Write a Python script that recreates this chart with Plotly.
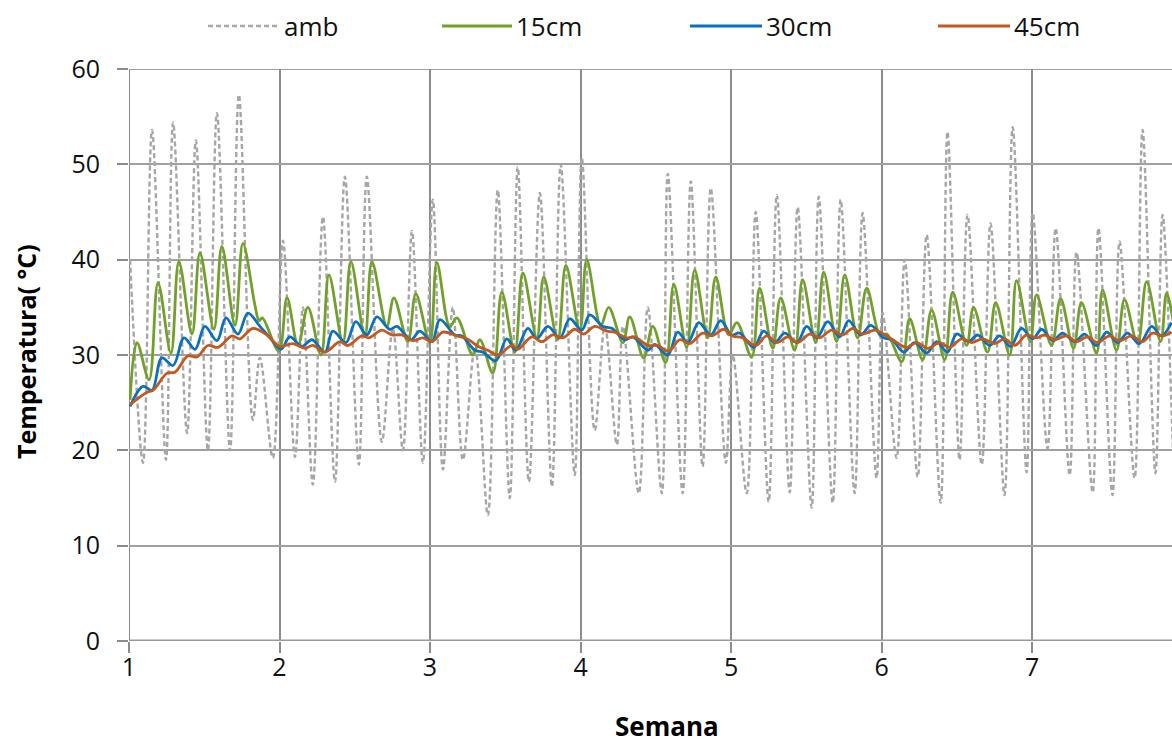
import plotly.graph_objects as go

# Daily turning points of each temperature record.
# x values are days since the start of monitoring, y values are °C.
amb_day = [0.05, 0.65, 1.07, 1.72, 2.05, 2.70, 3.11, 3.67, 4.09, 4.70, 5.11, 5.76, 6.09, 6.69,
           7.16, 7.72, 8.09, 8.55, 9.02, 9.58, 10.04, 10.69, 11.06, 11.76, 12.27, 12.74, 13.16, 13.67,
           14.13, 14.60, 15.06, 15.53, 16.09, 16.69, 17.15, 17.71, 18.08, 18.60, 19.11, 19.67, 20.08, 20.73,
           21.06, 21.66, 22.13, 22.69, 22.97, 23.71, 24.13, 24.78, 25.06, 25.75, 26.13, 26.68, 27.06, 27.76,
           28.08, 28.73, 29.15, 29.75, 30.13, 30.73, 31.10, 31.75, 32.08, 32.73, 33.10, 33.75, 34.12, 34.77,
           35.05, 35.70, 36.08, 36.68, 37.10, 37.75, 38.07, 38.63, 39.00, 39.66, 40.07, 40.72, 41.10, 41.75,
           42.03, 42.72, 43.10, 43.75, 44.07, 44.82, 45.09, 45.74, 46.07, 46.77, 47.14, 47.74, 48.07, 48.55]
amb_temp = [40.0, 18.7, 53.6, 19.0, 54.4, 21.8, 52.5, 20.0, 55.4, 20.0, 57.3, 23.2, 29.7, 19.2,
            42.0, 19.3, 35.0, 16.4, 44.5, 16.7, 48.7, 18.5, 48.7, 20.9, 32.8, 20.0, 43.0, 18.7,
            46.3, 18.0, 35.0, 19.0, 30.8, 13.2, 47.3, 15.0, 49.7, 16.7, 47.0, 16.2, 50.0, 17.4,
            50.7, 22.1, 33.0, 20.6, 33.0, 15.5, 35.0, 15.5, 49.0, 15.5, 48.2, 18.3, 47.5, 18.7,
            30.0, 15.5, 45.0, 14.6, 46.8, 15.6, 45.5, 14.0, 46.6, 14.5, 46.3, 15.5, 44.9, 17.1,
            34.4, 19.2, 40.0, 17.2, 42.6, 14.5, 53.4, 19.0, 44.7, 18.5, 43.8, 15.3, 53.9, 17.7,
            44.9, 20.2, 43.3, 17.4, 40.8, 15.6, 43.3, 15.3, 41.9, 17.1, 53.6, 17.6, 44.7, 20.0]

d15_day = [0.05, 0.37, 0.93, 1.35, 1.95, 2.32, 2.93, 3.30, 3.95, 4.32, 4.93, 5.30, 5.86, 6.05, 6.20, 6.97,
           7.35, 7.86, 8.32, 8.93, 9.30, 9.95, 10.32, 10.97, 11.30, 11.99, 12.32, 12.97, 13.34, 13.99,
           14.32, 14.92, 15.25, 15.99, 16.32, 16.92, 17.34, 17.94, 18.32, 18.97, 19.29, 19.94, 20.32, 20.97,
           21.29, 21.94, 22.31, 22.97, 23.29, 23.94, 24.36, 24.96, 25.34, 25.94, 26.31, 26.92, 27.29, 27.89,
           28.27, 28.96, 29.33, 29.94, 30.31, 30.96, 31.33, 31.94, 32.31, 32.91, 33.29, 33.89, 34.31, 34.95,
           35.25, 35.94, 36.31, 36.91, 37.33, 37.94, 38.31, 38.96, 39.28, 39.93, 40.31, 40.96, 41.28, 41.92,
           42.21, 42.91, 43.33, 43.93, 44.30, 45.00, 45.28, 45.93, 46.30, 46.91, 47.33, 47.98, 48.26, 48.70]
d15_temp = [25.3, 31.3, 27.4, 37.6, 30.2, 39.8, 32.2, 40.7, 32.7, 41.4, 33.1, 41.7, 35.2, 33.6, 33.9, 30.4,
            36.0, 31.0, 35.0, 30.0, 38.4, 31.3, 39.8, 31.9, 39.8, 33.0, 36.0, 31.4, 36.4, 31.3,
            39.7, 33.0, 33.9, 30.0, 31.6, 28.1, 36.6, 30.3, 38.6, 31.8, 38.2, 31.6, 39.4, 32.6,
            40.0, 33.1, 35.0, 31.3, 34.0, 29.7, 33.0, 29.2, 37.4, 30.8, 38.9, 31.8, 38.2, 32.1,
            33.4, 29.8, 37.0, 30.7, 36.0, 30.5, 37.9, 31.3, 38.7, 31.4, 38.4, 31.8, 37.0, 32.0,
            32.2, 29.3, 33.8, 29.5, 34.7, 29.5, 36.6, 31.0, 35.0, 30.3, 35.5, 30.0, 37.8, 31.4,
            36.3, 31.0, 35.9, 30.7, 35.5, 30.2, 36.8, 30.5, 35.8, 31.2, 37.7, 31.4, 36.5, 31.5]

d30_day = [0.05, 0.65, 1.07, 1.53, 2.05, 2.56, 3.07, 3.53, 4.09, 4.51, 5.07, 5.53, 6.09, 6.56, 7.07,
           7.48, 8.04, 8.51, 9.11, 9.48, 10.09, 10.55, 11.06, 11.53, 12.13, 12.46, 13.11, 13.53, 14.09,
           14.46, 15.16, 15.48, 16.09, 16.46, 17.06, 17.57, 17.99, 18.55, 18.97, 19.48, 20.04, 20.50, 21.06,
           21.43, 22.04, 22.45, 23.06, 23.43, 24.13, 24.45, 25.06, 25.52, 25.99, 26.50, 27.06, 27.52, 28.03,
           28.40, 29.06, 29.52, 30.03, 30.50, 31.06, 31.52, 31.98, 32.50, 33.05, 33.47, 34.03, 34.50, 35.10,
           35.50, 36.03, 36.54, 37.10, 37.56, 38.07, 38.49, 39.05, 39.47, 40.03, 40.49, 41.00, 41.51, 42.03,
           42.45, 42.96, 43.42, 43.98, 44.44, 45.00, 45.47, 45.98, 46.44, 47.00, 47.56, 48.02, 48.49]
d30_temp = [24.6, 26.7, 26.3, 29.7, 28.9, 31.8, 30.6, 33.0, 31.5, 33.9, 32.2, 34.4, 33.0, 31.8, 30.6,
            31.9, 30.9, 31.6, 30.3, 32.5, 31.3, 33.5, 32.1, 34.0, 32.7, 33.0, 31.6, 32.5, 31.4,
            33.7, 32.1, 32.0, 30.5, 30.3, 29.4, 31.7, 30.5, 32.8, 31.7, 33.0, 31.8, 33.8, 32.6,
            34.2, 33.0, 32.8, 31.6, 31.9, 30.5, 31.1, 30.0, 32.4, 31.3, 33.4, 32.1, 33.6, 32.1,
            32.3, 30.8, 32.5, 31.3, 32.3, 31.3, 33.0, 31.8, 33.5, 31.9, 33.6, 32.1, 33.1, 31.8,
            31.6, 30.3, 31.3, 30.2, 31.4, 30.3, 32.2, 31.4, 32.1, 31.0, 32.0, 30.9, 32.8, 31.7,
            32.7, 31.5, 32.3, 31.4, 32.2, 31.0, 32.4, 31.3, 32.3, 31.2, 33.0, 32.0, 33.4]

d45_day = [0.05, 0.84, 1.12, 1.77, 2.14, 2.74, 3.16, 3.67, 4.14, 4.79, 5.16, 5.76, 6.42, 7.02, 7.62,
           8.18, 8.55, 9.11, 9.81, 10.18, 10.83, 11.16, 11.76, 12.23, 12.69, 13.20, 13.67, 14.09, 14.60,
           15.25, 15.71, 16.32, 16.69, 17.15, 17.81, 18.08, 18.74, 19.20, 19.71, 20.18, 20.73, 21.15, 21.66,
           22.22, 22.59, 23.15, 23.52, 24.13, 24.59, 25.10, 25.62, 26.08, 26.68, 27.10, 27.66, 28.08, 28.54,
           29.15, 29.66, 30.13, 30.64, 31.10, 31.66, 32.12, 32.68, 33.19, 33.66, 34.12, 34.68, 35.10, 35.52,
           36.17, 36.63, 37.15, 37.70, 38.17, 38.73, 39.19, 39.70, 40.26, 40.72, 41.19, 41.75, 42.21, 42.58,
           43.05, 43.61, 44.07, 44.58, 45.05, 45.61, 46.07, 46.63, 47.14, 47.61, 48.07, 48.49]
d45_temp = [24.8, 26.1, 26.3, 28.1, 28.2, 29.9, 29.8, 31.0, 30.8, 32.0, 31.7, 32.8, 32.1, 30.9, 31.2,
            30.7, 31.0, 30.3, 31.4, 31.0, 32.0, 31.8, 32.6, 32.1, 32.1, 31.5, 31.8, 31.4, 32.4,
            32.0, 31.7, 30.8, 30.5, 30.0, 31.0, 30.6, 31.9, 31.4, 32.1, 31.8, 32.7, 32.2, 33.0,
            32.5, 32.4, 31.8, 31.9, 31.0, 31.0, 30.4, 31.6, 31.2, 32.3, 32.0, 32.7, 32.0, 31.8,
            31.0, 32.0, 31.3, 31.9, 31.3, 32.2, 31.8, 32.6, 32.1, 32.8, 32.2, 32.6, 32.2, 31.6,
            30.8, 31.3, 30.7, 31.3, 30.8, 31.7, 31.3, 31.7, 31.2, 31.7, 31.0, 32.1, 31.8, 32.1,
            31.6, 32.0, 31.4, 31.9, 31.3, 32.0, 31.5, 32.0, 31.4, 32.3, 32.0, 32.4]

series_names = ["amb", "15cm", "30cm", "45cm"]
series_colors = ["#A6A6A6", "#72A12A", "#0A70C0", "#C4581E"]
week_ticks = [1, 2, 3, 4, 5, 6, 7]
temp_ticks = [0, 10, 20, 30, 40, 50, 60]

FONT = "Open Sans"
W, H = 1172, 747
ML, MR, MT, MB = 129, 0, 69, 106
PW, PH = W - ML - MR, H - MT - MB
GRID_V = "#8C8C8C"
GRID_H = "#A0A0A0"
AMB_DASH = "5px,3px"


def to_week(days):
    return [1 + d / 7.0 for d in days]


def px_x(px):
    return (px - ML) / PW


def px_y(py):
    return (H - MB - py) / PH


fig = go.Figure()
data = [(amb_day, amb_temp), (d15_day, d15_temp), (d30_day, d30_temp), (d45_day, d45_temp)]
for i, (dx, dy) in enumerate(data):
    line = dict(color=series_colors[i], width=2.8, shape="spline", smoothing=1.0)
    if i == 0:
        line.update(width=2.4, dash=AMB_DASH)
    fig.add_trace(go.Scatter(x=to_week(dx), y=dy, mode="lines", name=series_names[i],
                             line=line, showlegend=False, hoverinfo="skip"))

axis_common = dict(showline=False, zeroline=False, ticks="outside", ticklen=11, tickwidth=2,
                   tickcolor=GRID_V, tickfont=dict(family=FONT, size=25, color="#111111"))
fig.update_xaxes(range=[1, 7.93], tickvals=week_ticks, showgrid=True, gridcolor=GRID_V,
                 gridwidth=2, ticklabelstandoff=-7, **axis_common)
fig.update_yaxes(range=[0, 60], tickvals=temp_ticks, showgrid=True, gridcolor=GRID_H,
                 gridwidth=2, ticklabelstandoff=12, **axis_common)

# frame lines: top gridline, left axis and the 0 °C baseline
fig.add_shape(type="line", xref="paper", yref="y", x0=0, x1=1, y0=60, y1=60,
              line=dict(color=GRID_H, width=2), layer="below")
fig.add_shape(type="line", xref="x", yref="paper", x0=1, x1=1, y0=0, y1=1,
              line=dict(color=GRID_V, width=2), layer="below")
fig.add_shape(type="line", xref="paper", yref="y", x0=0, x1=1, y0=0, y1=0,
              line=dict(color="#9A9A9A", width=3), layer="above")

annotations = [
    dict(text="<b>Semana</b>", x=px_x(667), y=px_y(726), xref="paper", yref="paper",
         showarrow=False, font=dict(family=FONT, size=26, color="#000000"),
         xanchor="center", yanchor="middle"),
    dict(text="<b>Temperatura( °C)</b>", x=px_x(26), y=px_y(352), xref="paper", yref="paper",
         showarrow=False, textangle=-90, font=dict(family=FONT, size=25, color="#000000"),
         xanchor="center", yanchor="middle"),
]

# legend row drawn above the plot area
legend_line_px = [(208, 280), (442, 512), (690, 762), (938, 1010)]
legend_y = 26
for i, (a, b) in enumerate(legend_line_px):
    ln = dict(color=series_colors[i], width=2.8)
    if i == 0:
        ln.update(width=2.4, dash=AMB_DASH)
    fig.add_shape(type="line", xref="paper", yref="paper", x0=px_x(a), x1=px_x(b),
                  y0=px_y(legend_y), y1=px_y(legend_y), line=ln)
    annotations.append(dict(text=series_names[i], x=px_x(b + 2), y=px_y(legend_y),
                            xref="paper", yref="paper", showarrow=False, xanchor="left",
                            yanchor="middle",
                            font=dict(family=FONT, size=26, color="#111111")))

fig.update_layout(width=W, height=H, margin=dict(l=ML, r=MR, t=MT, b=MB),
                  paper_bgcolor="white", plot_bgcolor="white", annotations=annotations,
                  font=dict(family=FONT))

fig.write_html("out.html", config={"displayModeBar": False})
